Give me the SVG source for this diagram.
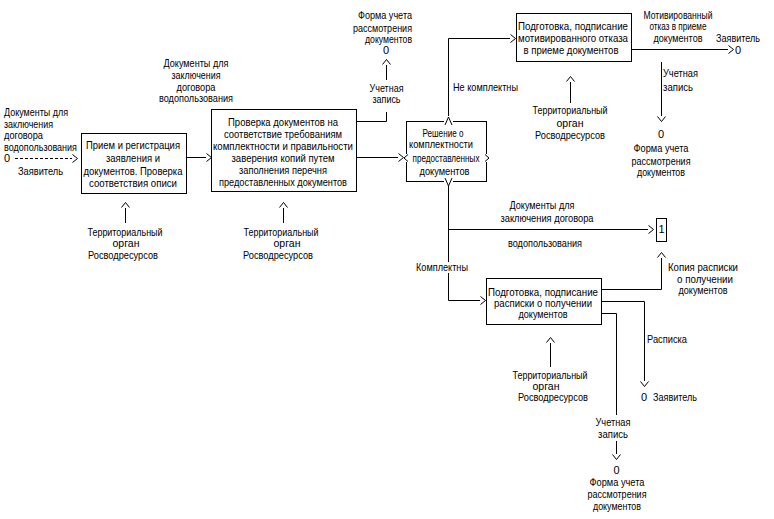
<svg xmlns="http://www.w3.org/2000/svg" width="774" height="519" viewBox="0 0 774 519">
<style>
text{font-family:"Liberation Sans",Arial,sans-serif;font-size:11px;fill:#000}
.c{text-anchor:middle}
.r{text-anchor:end}
.box{fill:#fff;stroke:#000;stroke-width:1}
.ln{fill:none;stroke:#000;stroke-width:1}
.ah{fill:none;stroke:#000;stroke-width:1}
.dash{stroke-dasharray:3,2}
</style>
<defs>
<marker id="arr" markerUnits="userSpaceOnUse" markerWidth="8" markerHeight="10" viewBox="0 0 8 10" refX="0" refY="5" orient="auto">
<path d="M0.5,1 L5.5,5 L0.5,9" fill="none" stroke="#000" stroke-width="1"/>
</marker>
</defs>
<rect width="774" height="519" fill="#fff"/>

<g id="connectors">
<line class="ln dash" x1="15" y1="158.5" x2="72" y2="158.5" marker-end="url(#arr)"/>
<line class="ln" x1="187" y1="157.5" x2="206" y2="157.5" marker-end="url(#arr)"/>
<line class="ln" x1="357" y1="157.5" x2="398" y2="157.5" marker-end="url(#arr)"/>
<polyline class="ln" points="357,121.5 386.5,121.5 386.5,112"/>
<line class="ln" x1="386.5" y1="80" x2="386.5" y2="65" marker-end="url(#arr)"/>
<polyline class="ln" points="448.5,116 448.5,38.5 510,38.5" marker-end="url(#arr)"/>
<line class="ln" x1="632" y1="49.5" x2="728" y2="49.5" marker-end="url(#arr)"/>
<line class="ln" x1="661.5" y1="62" x2="661.5" y2="116" marker-end="url(#arr)"/>
<line class="ln" x1="570.5" y1="103" x2="570.5" y2="82" marker-end="url(#arr)"/>
<line class="ln" x1="125.5" y1="223" x2="125.5" y2="208" marker-end="url(#arr)"/>
<line class="ln" x1="283.5" y1="223" x2="283.5" y2="208" marker-end="url(#arr)"/>
<line class="ln" x1="448.5" y1="186" x2="448.5" y2="262"/>
<polyline class="ln" points="448.5,273 448.5,300.5 480,300.5" marker-end="url(#arr)"/>
<line class="ln" x1="448.5" y1="229.5" x2="648" y2="229.5" marker-end="url(#arr)"/>
<polyline class="ln" points="602,289.5 661.5,289.5 661.5,258" marker-end="url(#arr)"/>
<polyline class="ln" points="602,301.5 644.5,301.5 644.5,381" marker-end="url(#arr)"/>
<polyline class="ln" points="602,313.5 616.5,313.5 616.5,415"/>
<line class="ln" x1="616.5" y1="441" x2="616.5" y2="454" marker-end="url(#arr)"/>
<line class="ln" x1="550.5" y1="367" x2="550.5" y2="343" marker-end="url(#arr)"/>
</g>

<g id="input-docs">
<text x="4" y="116" textLength="64" lengthAdjust="spacingAndGlyphs">Документы для</text>
<text x="4" y="128" textLength="49" lengthAdjust="spacingAndGlyphs">заключения</text>
<text x="4" y="139" textLength="39" lengthAdjust="spacingAndGlyphs">договора</text>
<text x="4" y="151" textLength="73" lengthAdjust="spacingAndGlyphs">водопользования</text>
<text x="4" y="162">0</text>
<text x="18" y="175" textLength="45" lengthAdjust="spacingAndGlyphs">Заявитель</text>
</g>

<g id="box1">
<rect class="box" x="81.5" y="133.5" width="105" height="60"/>
<text class="c" x="133" y="149" textLength="94" lengthAdjust="spacingAndGlyphs">Прием и регистрация</text>
<text class="c" x="133" y="162" textLength="54" lengthAdjust="spacingAndGlyphs">заявления и</text>
<text class="c" x="133" y="175" textLength="99" lengthAdjust="spacingAndGlyphs">документов. Проверка</text>
<text class="c" x="133" y="187" textLength="88" lengthAdjust="spacingAndGlyphs">соответствия описи</text>
</g>

<g id="mech1">
<text class="c" x="125" y="236" textLength="75" lengthAdjust="spacingAndGlyphs">Территориальный</text>
<text class="c" x="126" y="247" textLength="27" lengthAdjust="spacingAndGlyphs">орган</text>
<text class="c" x="123" y="259" textLength="70" lengthAdjust="spacingAndGlyphs">Росводресурсов</text>
</g>

<g id="label-docs2">
<text class="c" x="196" y="67" textLength="65" lengthAdjust="spacingAndGlyphs">Документы для</text>
<text class="c" x="196" y="79" textLength="49" lengthAdjust="spacingAndGlyphs">заключения</text>
<text class="c" x="196" y="91" textLength="39" lengthAdjust="spacingAndGlyphs">договора</text>
<text class="c" x="196" y="102" textLength="74" lengthAdjust="spacingAndGlyphs">водопользования</text>
</g>

<g id="box2">
<rect class="box" x="211.5" y="109.5" width="145" height="82"/>
<text class="c" x="283" y="126" textLength="110" lengthAdjust="spacingAndGlyphs">Проверка документов на</text>
<text class="c" x="283" y="138" textLength="118" lengthAdjust="spacingAndGlyphs">соответствие требованиям</text>
<text class="c" x="283" y="150" textLength="140" lengthAdjust="spacingAndGlyphs">комплектности и правильности</text>
<text class="c" x="283" y="162" textLength="103" lengthAdjust="spacingAndGlyphs">заверения копий путем</text>
<text class="c" x="283" y="174" textLength="88" lengthAdjust="spacingAndGlyphs">заполнения перечня</text>
<text class="c" x="283" y="186" textLength="128" lengthAdjust="spacingAndGlyphs">предоставленных документов</text>
</g>

<g id="mech2">
<text class="c" x="281" y="236" textLength="75" lengthAdjust="spacingAndGlyphs">Территориальный</text>
<text class="c" x="287" y="247" textLength="27" lengthAdjust="spacingAndGlyphs">орган</text>
<text class="c" x="278" y="259" textLength="70" lengthAdjust="spacingAndGlyphs">Росводресурсов</text>
</g>

<g id="form-top">
<text class="r" x="412" y="19" textLength="54" lengthAdjust="spacingAndGlyphs">Форма учета</text>
<text class="r" x="412" y="32" textLength="59" lengthAdjust="spacingAndGlyphs">рассмотрения</text>
<text class="r" x="412" y="43" textLength="47" lengthAdjust="spacingAndGlyphs">документов</text>
<text class="c" x="386" y="54">0</text>
<text class="c" x="386.5" y="92" textLength="34" lengthAdjust="spacingAndGlyphs">Учетная</text>
<text class="c" x="386.5" y="103" textLength="28" lengthAdjust="spacingAndGlyphs">запись</text>
</g>

<g id="decision">
<rect class="box" x="406.5" y="121.5" width="80" height="60"/>
<text class="c" x="443" y="137" textLength="41" lengthAdjust="spacingAndGlyphs">Решение о</text>
<text class="c" x="441" y="148" textLength="64" lengthAdjust="spacingAndGlyphs">комплектности</text>
<text class="c" x="446" y="162" textLength="67" lengthAdjust="spacingAndGlyphs">предоставленных</text>
<text class="c" x="444.5" y="175" textLength="50" lengthAdjust="spacingAndGlyphs">документов</text>
<rect x="444" y="119" width="9" height="5" fill="#fff"/>
<path class="ah" d="M445,125 L448.5,117 L452,125"/>
<rect x="444" y="179" width="9" height="5" fill="#fff"/>
<path class="ah" d="M445,178 L448.5,186 L452,178"/>
<rect x="404" y="154" width="5" height="8" fill="#fff"/>
<path class="ah" d="M408,154.5 L404,158 L408,161.5"/>
<rect x="484" y="154" width="5" height="8" fill="#fff"/>
<path class="ah" d="M485,154.5 L489,158 L485,161.5"/>
<text x="453" y="91" textLength="65" lengthAdjust="spacingAndGlyphs">Не комплектны</text>
</g>

<g id="refusal">
<rect class="box" x="516.5" y="13.5" width="115" height="48"/>
<text class="c" x="573" y="30" textLength="110" lengthAdjust="spacingAndGlyphs">Подготовка, подписание</text>
<text class="c" x="573" y="42" textLength="110" lengthAdjust="spacingAndGlyphs">мотивированного отказа</text>
<text class="c" x="571" y="54" textLength="95" lengthAdjust="spacingAndGlyphs">в приеме документов</text>
</g>

<g id="refusal-mech">
<text class="c" x="570" y="114" textLength="75" lengthAdjust="spacingAndGlyphs">Территориальный</text>
<text class="c" x="570" y="127" textLength="27" lengthAdjust="spacingAndGlyphs">орган</text>
<text class="c" x="570" y="139" textLength="70" lengthAdjust="spacingAndGlyphs">Росводресурсов</text>
</g>

<g id="refusal-out">
<text class="c" x="678" y="19" textLength="69" lengthAdjust="spacingAndGlyphs">Мотивированный</text>
<text class="c" x="678" y="30" textLength="57" lengthAdjust="spacingAndGlyphs">отказ в приеме</text>
<text class="c" x="678" y="42" textLength="49" lengthAdjust="spacingAndGlyphs">документов</text>
<text x="716" y="42" textLength="44" lengthAdjust="spacingAndGlyphs">Заявитель</text>
<text x="735" y="54">0</text>
<text x="663" y="77" textLength="35" lengthAdjust="spacingAndGlyphs">Учетная</text>
<text x="663" y="91" textLength="30" lengthAdjust="spacingAndGlyphs">запись</text>
<text class="c" x="661" y="138">0</text>
<text class="c" x="661" y="152" textLength="55" lengthAdjust="spacingAndGlyphs">Форма учета</text>
<text class="c" x="661" y="165" textLength="59" lengthAdjust="spacingAndGlyphs">рассмотрения</text>
<text class="c" x="661" y="176" textLength="48" lengthAdjust="spacingAndGlyphs">документов</text>
</g>

<g id="branch">
<text class="c" x="542" y="209" textLength="65" lengthAdjust="spacingAndGlyphs">Документы для</text>
<text class="c" x="547" y="222" textLength="93" lengthAdjust="spacingAndGlyphs">заключения договора</text>
<text class="c" x="545" y="247" textLength="74" lengthAdjust="spacingAndGlyphs">водопользования</text>
<text class="c" x="442" y="271" textLength="52" lengthAdjust="spacingAndGlyphs">Комплектны</text>
</g>

<g id="ref1">
<rect class="box" x="656.5" y="218.5" width="10" height="23"/>
<text class="c" x="661.5" y="233">1</text>
</g>

<g id="receipt">
<rect class="box" x="486.5" y="278.5" width="115" height="46"/>
<text class="c" x="543" y="296" textLength="110" lengthAdjust="spacingAndGlyphs">Подготовка, подписание</text>
<text class="c" x="543" y="307" textLength="98" lengthAdjust="spacingAndGlyphs">расписки о получении</text>
<text class="c" x="543" y="318" textLength="49" lengthAdjust="spacingAndGlyphs">документов</text>
</g>

<g id="receipt-mech">
<text class="c" x="550" y="379" textLength="75" lengthAdjust="spacingAndGlyphs">Территориальный</text>
<text class="c" x="546" y="390" textLength="27" lengthAdjust="spacingAndGlyphs">орган</text>
<text class="c" x="553" y="401" textLength="70" lengthAdjust="spacingAndGlyphs">Росводресурсов</text>
</g>

<g id="receipt-out">
<text class="c" x="703" y="271" textLength="70" lengthAdjust="spacingAndGlyphs">Копия расписки</text>
<text class="c" x="705" y="283" textLength="56" lengthAdjust="spacingAndGlyphs">о получении</text>
<text class="c" x="703" y="294" textLength="49" lengthAdjust="spacingAndGlyphs">документов</text>
<text x="647" y="343" textLength="40" lengthAdjust="spacingAndGlyphs">Расписка</text>
<text x="641" y="401">0</text>
<text x="653" y="401" textLength="44" lengthAdjust="spacingAndGlyphs">Заявитель</text>
<text class="c" x="613" y="426" textLength="35" lengthAdjust="spacingAndGlyphs">Учетная</text>
<text class="c" x="613" y="438" textLength="30" lengthAdjust="spacingAndGlyphs">запись</text>
<text class="c" x="616.5" y="474">0</text>
<text class="c" x="617" y="486" textLength="55" lengthAdjust="spacingAndGlyphs">Форма учета</text>
<text class="c" x="617" y="498" textLength="59" lengthAdjust="spacingAndGlyphs">рассмотрения</text>
<text class="c" x="617" y="510" textLength="48" lengthAdjust="spacingAndGlyphs">документов</text>
</g>
</svg>
